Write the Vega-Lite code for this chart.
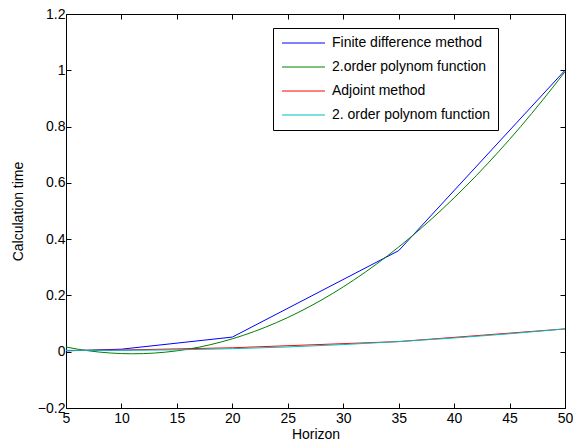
{
  "$schema": "https://vega.github.io/schema/vega-lite/v6.json",
  "autosize": {"type": "none"},
  "padding": {"left": 66, "top": 14, "right": 8, "bottom": 39},
  "width": 499,
  "height": 394,
  "background": "white",
  "data": {"values": [
    {"method": "Finite difference method", "horizon": 5, "time": 0.003},
    {"method": "Finite difference method", "horizon": 10, "time": 0.009},
    {"method": "Finite difference method", "horizon": 20, "time": 0.052},
    {"method": "Finite difference method", "horizon": 35, "time": 0.359},
    {"method": "Finite difference method", "horizon": 50, "time": 1.0},
    {"method": "2.order polynom function", "horizon": 5, "time": 0.0167},
    {"method": "2.order polynom function", "horizon": 6, "time": 0.0094},
    {"method": "2.order polynom function", "horizon": 7, "time": 0.0034},
    {"method": "2.order polynom function", "horizon": 8, "time": -0.0013},
    {"method": "2.order polynom function", "horizon": 9, "time": -0.0046},
    {"method": "2.order polynom function", "horizon": 10, "time": -0.0066},
    {"method": "2.order polynom function", "horizon": 11, "time": -0.0073},
    {"method": "2.order polynom function", "horizon": 12, "time": -0.0067},
    {"method": "2.order polynom function", "horizon": 13, "time": -0.0047},
    {"method": "2.order polynom function", "horizon": 14, "time": -0.0015},
    {"method": "2.order polynom function", "horizon": 15, "time": 0.0031},
    {"method": "2.order polynom function", "horizon": 16, "time": 0.009},
    {"method": "2.order polynom function", "horizon": 17, "time": 0.0162},
    {"method": "2.order polynom function", "horizon": 18, "time": 0.0248},
    {"method": "2.order polynom function", "horizon": 19, "time": 0.0347},
    {"method": "2.order polynom function", "horizon": 20, "time": 0.0458},
    {"method": "2.order polynom function", "horizon": 21, "time": 0.0583},
    {"method": "2.order polynom function", "horizon": 22, "time": 0.0722},
    {"method": "2.order polynom function", "horizon": 23, "time": 0.0873},
    {"method": "2.order polynom function", "horizon": 24, "time": 0.1038},
    {"method": "2.order polynom function", "horizon": 25, "time": 0.1215},
    {"method": "2.order polynom function", "horizon": 26, "time": 0.1407},
    {"method": "2.order polynom function", "horizon": 27, "time": 0.1611},
    {"method": "2.order polynom function", "horizon": 28, "time": 0.1828},
    {"method": "2.order polynom function", "horizon": 29, "time": 0.2059},
    {"method": "2.order polynom function", "horizon": 30, "time": 0.2303},
    {"method": "2.order polynom function", "horizon": 31, "time": 0.256},
    {"method": "2.order polynom function", "horizon": 32, "time": 0.283},
    {"method": "2.order polynom function", "horizon": 33, "time": 0.3113},
    {"method": "2.order polynom function", "horizon": 34, "time": 0.341},
    {"method": "2.order polynom function", "horizon": 35, "time": 0.372},
    {"method": "2.order polynom function", "horizon": 36, "time": 0.4043},
    {"method": "2.order polynom function", "horizon": 37, "time": 0.4379},
    {"method": "2.order polynom function", "horizon": 38, "time": 0.4728},
    {"method": "2.order polynom function", "horizon": 39, "time": 0.5091},
    {"method": "2.order polynom function", "horizon": 40, "time": 0.5467},
    {"method": "2.order polynom function", "horizon": 41, "time": 0.5856},
    {"method": "2.order polynom function", "horizon": 42, "time": 0.6258},
    {"method": "2.order polynom function", "horizon": 43, "time": 0.6674},
    {"method": "2.order polynom function", "horizon": 44, "time": 0.7102},
    {"method": "2.order polynom function", "horizon": 45, "time": 0.7544},
    {"method": "2.order polynom function", "horizon": 46, "time": 0.7999},
    {"method": "2.order polynom function", "horizon": 47, "time": 0.8467},
    {"method": "2.order polynom function", "horizon": 48, "time": 0.8949},
    {"method": "2.order polynom function", "horizon": 49, "time": 0.9443},
    {"method": "2.order polynom function", "horizon": 50, "time": 0.9951},
    {"method": "Adjoint method", "horizon": 5, "time": 0.004},
    {"method": "Adjoint method", "horizon": 10, "time": 0.006},
    {"method": "Adjoint method", "horizon": 20, "time": 0.014},
    {"method": "Adjoint method", "horizon": 35, "time": 0.036},
    {"method": "Adjoint method", "horizon": 50, "time": 0.081},
    {"method": "2. order polynom function", "horizon": 5, "time": 0.005},
    {"method": "2. order polynom function", "horizon": 10, "time": 0.0047},
    {"method": "2. order polynom function", "horizon": 15, "time": 0.0066},
    {"method": "2. order polynom function", "horizon": 20, "time": 0.0107},
    {"method": "2. order polynom function", "horizon": 25, "time": 0.0169},
    {"method": "2. order polynom function", "horizon": 30, "time": 0.0254},
    {"method": "2. order polynom function", "horizon": 35, "time": 0.036},
    {"method": "2. order polynom function", "horizon": 40, "time": 0.0488},
    {"method": "2. order polynom function", "horizon": 45, "time": 0.0638},
    {"method": "2. order polynom function", "horizon": 50, "time": 0.081}
  ]},
  "layer": [
    {
      "mark": {"type": "line", "strokeWidth": 1},
      "encoding": {
        "x": {"field": "horizon", "type": "quantitative",
              "scale": {"domain": [5, 50], "nice": false, "zero": false},
              "axis": {"orient": "bottom", "title": "Horizon", "values": [5,10,15,20,25,30,35,40,45,50],
                       "labelPadding": 8, "titlePadding": 2}},
        "y": {"field": "time", "type": "quantitative",
              "scale": {"domain": [-0.2, 1.2], "nice": false, "zero": false},
              "axis": {"orient": "left", "title": "Calculation time", "values": [-0.2,0,0.2,0.4,0.6,0.8,1,1.2],
                       "format": "~g", "labelPadding": 6, "titlePadding": 12}},
        "color": {"field": "method", "type": "nominal",
                  "scale": {"domain": ["Finite difference method", "2.order polynom function", "Adjoint method", "2. order polynom function"],
                            "range": ["#0000ff", "#008000", "#ff0000", "#00bfbf"]},
                  "sort": null,
                  "legend": {"title": null, "orient": "none", "legendX": 207, "legendY": 14,
                             "symbolType": "M-1,0H6.17", "symbolSize": 144, "symbolStrokeWidth": 1,
                             "labelFontSize": 14, "labelFont": "Liberation Sans", "labelColor": "black",
                             "labelOffset": 37, "rowPadding": 10, "padding": 8,
                             "strokeColor": "black", "fillColor": "white", "labelLimit": 300}}
      }
    },
    {
      "mark": {"type": "point", "opacity": 0},
      "encoding": {
        "x": {"field": "horizon", "type": "quantitative",
              "axis": {"orient": "top", "title": null, "labels": false, "values": [5,10,15,20,25,30,35,40,45,50]}},
        "y": {"field": "time", "type": "quantitative",
              "axis": {"orient": "right", "title": null, "labels": false, "values": [-0.2,0,0.2,0.4,0.6,0.8,1,1.2]}}
      }
    }
  ],
  "resolve": {"axis": {"x": "independent", "y": "independent"}},
  "config": {
    "view": {"stroke": null},
    "axis": {"grid": false, "domainColor": "black", "domainWidth": 1, "tickColor": "black", "tickSize": -5,
             "labelColor": "black", "titleColor": "black", "labelFont": "Liberation Sans", "titleFont": "Liberation Sans",
             "labelFontSize": 14, "titleFontSize": 14, "titleFontWeight": "normal", "labelOverlap": false, "labelFlush": false}
  }
}
